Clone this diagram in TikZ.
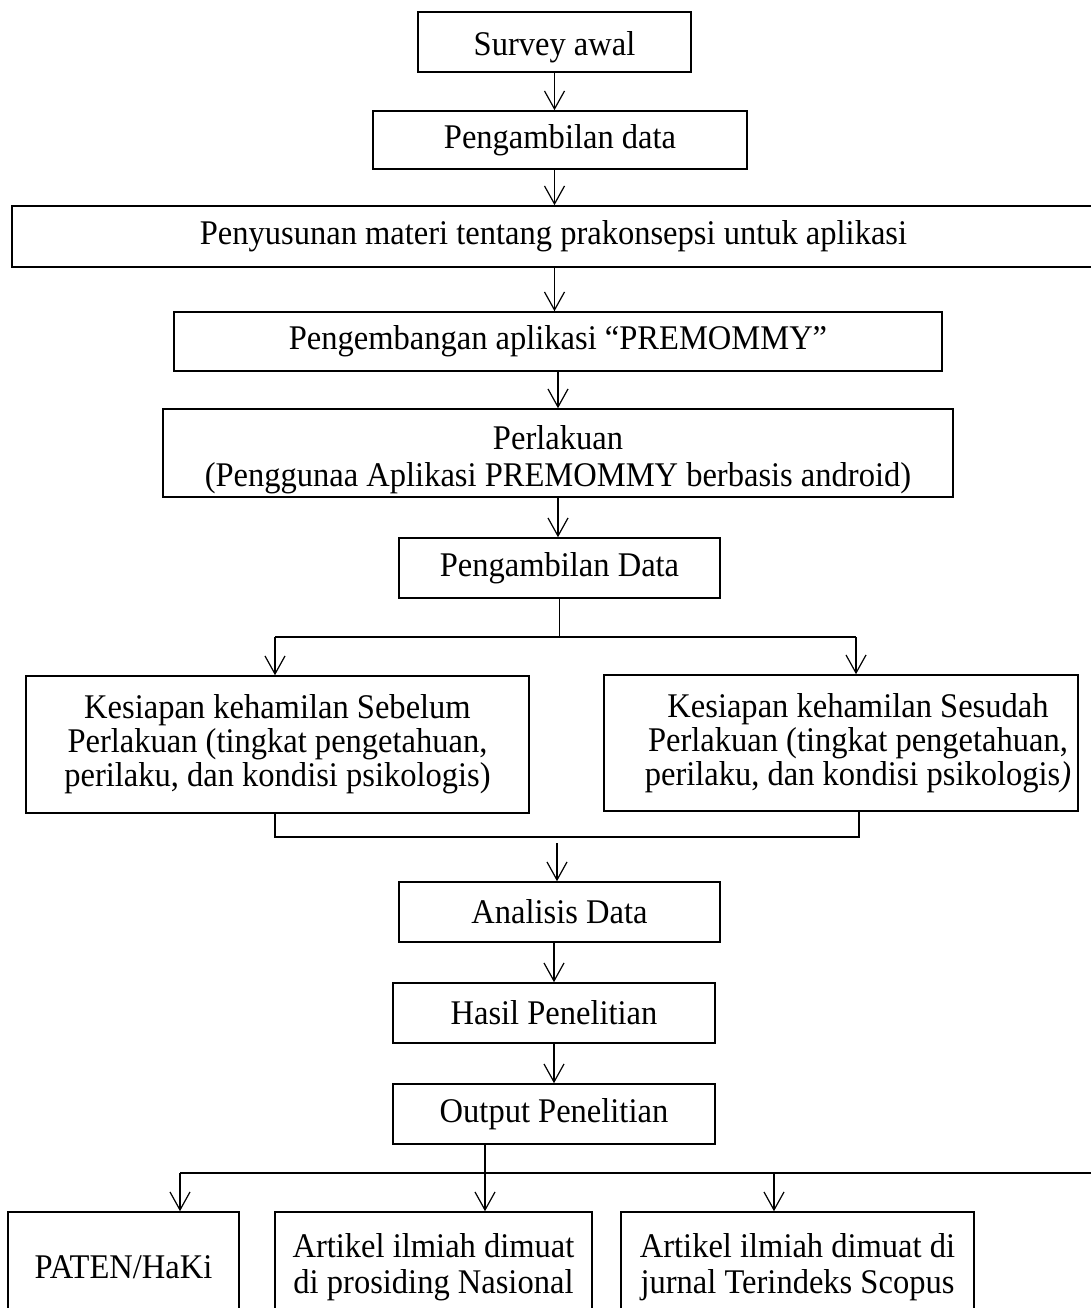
\documentclass[tikz,border=0pt]{standalone}
\usepackage{fontspec}
\setmainfont{Liberation Serif}[FakeStretch=0.94]
\usetikzlibrary{arrows.meta}
\begin{document}
\begin{tikzpicture}[x=0.5pt,y=-0.5pt,
  box/.style={draw,line width=0.8pt,inner sep=0pt,align=center,font=\fontsize{17.3}{17}\selectfont},
  arr/.style={line width=0.6pt,-{Straight Barb[length=9pt,width=10pt]}},
  link/.style={line width=0.6pt}]
\useasboundingbox (0,0) rectangle (1091,1308);
\clip (0,0) rectangle (1091,1308);
% main chain
\node[box,minimum width=136.5pt,minimum height=30pt] (survey) at (554.5,42) {\rule{0pt}{16.8pt}Survey awal};
\node[box,minimum width=187pt,minimum height=29pt] (ambil1) at (560,140) {Pengambilan data};
\node[box,minimum width=541.5pt,minimum height=30.5pt] (susun) at (553.5,236.5) {Penyusunan materi tentang prakonsepsi untuk aplikasi};
\node[box,minimum width=384pt,minimum height=29.5pt] (kembang) at (558,341.5) {Pengembangan aplikasi “PREMOMMY”};
\node[box,minimum width=395pt,minimum height=44pt] (lakuan) at (558,453) {\rule{0pt}{18.8pt}Perlakuan\\[1.5pt](Penggunaa Aplikasi PREMOMMY berbasis android)};
\node[box,minimum width=160.5pt,minimum height=30pt] (ambil2) at (559.5,568) {Pengambilan Data};
% two branches
\node[box,minimum width=251.5pt,minimum height=68.5pt] (sebelum) at (277.5,744.5) {Kesiapan kehamilan Sebelum\\Perlakuan (tingkat pengetahuan,\\perilaku, dan kondisi psikologis)};
\node[box,minimum width=237pt,minimum height=68pt] (sesudah) at (841,743) {\hspace*{17pt}Kesiapan kehamilan Sesudah\\\hspace*{17pt}Perlakuan (tingkat pengetahuan,\\\hspace*{17pt}perilaku, dan kondisi psikologis\textit{)}};
\node[box,minimum width=160.5pt,minimum height=30pt] (analisis) at (559.5,912) {Analisis Data};
\node[box,minimum width=161pt,minimum height=30pt] (hasil) at (554,1013) {Hasil Penelitian};
\node[box,minimum width=161pt,minimum height=30pt] (output) at (554,1114) {Output Penelitian};
% outputs
\node[box,minimum width=115.5pt,minimum height=55pt] (paten) at (123.5,1267) {PATEN/HaKi};
\node[box,minimum width=158.5pt,minimum height=55pt] (prosiding) at (433.5,1267) {Artikel ilmiah dimuat\\[1pt]di prosiding Nasional};
\node[box,minimum width=176.5pt,minimum height=55pt] (scopus) at (797.5,1267) {Artikel ilmiah dimuat di\\[1pt]jurnal Terindeks Scopus};
% arrows
\draw[arr] (survey.south) -- (survey.south |- ambil1.north);
\draw[arr] (survey.south |- ambil1.south) -- (survey.south |- susun.north);
\draw[arr] (survey.south |- susun.south) -- (survey.south |- kembang.north);
\draw[arr] (kembang.south) -- (lakuan.north);
\draw[arr] (lakuan.south) -- (lakuan.south |- ambil2.north);
% split and join
\coordinate (splitL) at (275,637);
\coordinate (splitR) at (856,637);
\draw[link] (ambil2.south) -- (ambil2.south |- splitL);
\draw[link] (splitL) -- (splitR);
\draw[arr] (splitL) -- (splitL |- sebelum.north);
\draw[arr] (splitR) -- (splitR |- sesudah.north);
\coordinate (joinL) at (275,837);
\coordinate (joinR) at (859,837);
\coordinate (joinM) at (557,843);
\draw[link] (joinL |- sebelum.south) -- (joinL) -- (joinR) -- (joinR |- sesudah.south);
\draw[arr] (joinM) -- (joinM |- analisis.north);
\draw[arr] (hasil.north |- analisis.south) -- (hasil.north);
\draw[arr] (hasil.south) -- (output.north);
% output fan
\coordinate (outL) at (180,1173);
\coordinate (outM) at (485,1173);
\coordinate (outC) at (774,1173);
\coordinate (outR) at (1100,1173);
\draw[arr] (outM |- output.south) -- (outM |- prosiding.north);
\draw[link] (outL) -- (outR);
\draw[arr] (outL) -- (outL |- paten.north);
\draw[arr] (outC) -- (outC |- scopus.north);
\end{tikzpicture}
\end{document}
